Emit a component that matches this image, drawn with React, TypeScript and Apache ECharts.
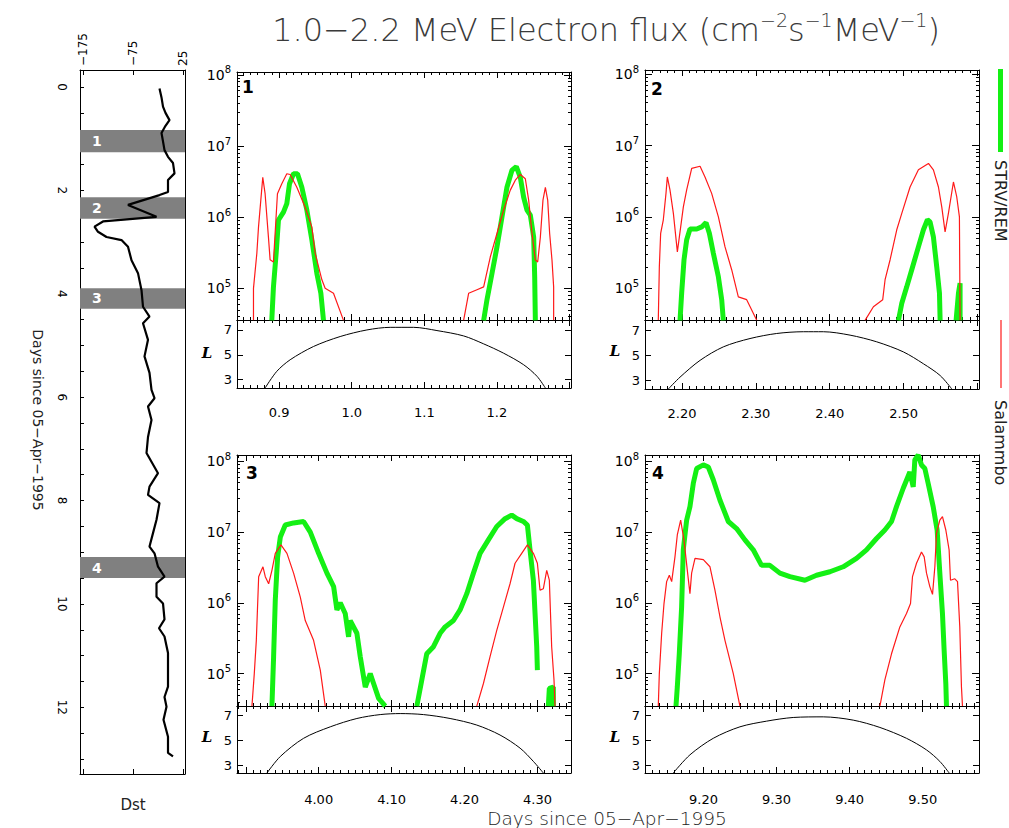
import React, { useEffect, useRef } from 'react';
import * as echarts from 'echarts';

const FONT = 'DejaVu Sans';

// ---- Dst panel (left): Dst index (nT) versus days since 05-Apr-1995 ----
const dstDays = [0.03, 0.2, 0.38, 0.5, 0.64, 0.75, 0.89, 1.05, 1.22, 1.35, 1.47, 1.67, 1.8, 2.03, 2.09, 2.28, 2.51, 2.6, 2.7, 2.8, 2.9, 2.96, 3.09, 3.35, 3.6, 3.93, 4.25, 4.44, 4.57, 4.89, 5.21, 5.53, 5.86, 6.02, 6.18, 6.44, 6.77, 7.08, 7.47, 7.73, 7.89, 8.05, 8.37, 8.63, 8.89, 9.02, 9.28, 9.47, 9.6, 9.86, 9.99, 10.3, 10.47, 10.63, 10.95, 11.6, 11.8, 11.99, 12.24, 12.57, 12.88, 12.95];
const dstValues = [-22, -18, -15, -10, -2, -10, -18, -15, -12, -5, 5, 8, -5, -5, -22, -85, -28, -135, -152, -145, -128, -98, -85, -78, -65, -58, -55, -42, -55, -45, -52, -42, -38, -32, -45, -38, -45, -48, -25, -42, -45, -22, -28, -35, -42, -32, -25, -12, -28, -28, -15, -12, -23, -12, -5, -5, -12, -8, -14, -5, -5, 5];
const dstTicks = [-175, -75, 25];
const dayLabels = [0, 2, 4, 6, 8, 10, 12];
const bandNames = ['1', '2', '3', '4'];
const bandStart = [0.83, 2.13, 3.89, 9.09];
const bandEnd = [1.26, 2.55, 4.29, 9.5];

// ---- Flux panels: [day, log10(flux)] ----
const p1Red1 = [[0.8647, 4.55], [0.8647, 5.0], [0.8693, 5.49], [0.8716, 5.86], [0.8748, 6.24], [0.8775, 6.56], [0.8807, 6.33], [0.8853, 5.72], [0.8876, 5.4], [0.8922, 5.37], [0.8945, 5.77], [0.8977, 6.33], [0.9037, 6.47], [0.9106, 6.61], [0.9152, 6.6], [0.9244, 6.42], [0.9359, 6.14], [0.9451, 5.86], [0.9497, 5.49], [0.9589, 5.12], [0.9634, 5.0], [0.9749, 4.93], [0.9887, 4.55]];
const p1Red2 = [[1.1541, 4.55], [1.161, 4.93], [1.1725, 4.98], [1.1817, 5.02], [1.1908, 5.44], [1.2, 5.77], [1.2092, 6.1], [1.2184, 6.38], [1.2253, 6.52], [1.2322, 6.6], [1.2391, 6.54], [1.2437, 6.24], [1.2483, 5.77], [1.2529, 5.4], [1.2561, 5.37], [1.2598, 5.72], [1.2634, 6.24], [1.2667, 6.42], [1.2699, 6.24], [1.2726, 5.77], [1.2758, 5.4], [1.2781, 5.02], [1.2781, 4.55]];
const p1Green1 = [[0.8899, 4.55], [0.8922, 5.02], [0.8959, 5.49], [0.8991, 5.96], [0.906, 6.07], [0.9106, 6.19], [0.9143, 6.47], [0.9198, 6.61], [0.9253, 6.61], [0.9313, 6.42], [0.9382, 6.1], [0.9451, 5.68], [0.952, 5.21], [0.9575, 4.93], [0.9611, 4.55]];
const p1Green2 = [[1.1817, 4.55], [1.1863, 4.84], [1.1932, 5.21], [1.2, 5.58], [1.2069, 6.0], [1.2138, 6.42], [1.2207, 6.66], [1.2267, 6.71], [1.2322, 6.56], [1.2368, 6.28], [1.2414, 6.1], [1.246, 6.03], [1.2506, 5.72], [1.252, 5.16], [1.2529, 4.55]];
const p1L = [[0.8807, 2.33], [0.8968, 3.67], [0.9152, 4.6], [0.9474, 5.67], [0.9841, 6.47], [1.0209, 7.0], [1.053, 7.21], [1.0852, 7.21], [1.1174, 6.95], [1.1541, 6.52], [1.1817, 5.88], [1.2092, 5.13], [1.2368, 4.2], [1.2552, 3.27], [1.2667, 2.33]];

const p2Red1 = [[2.168, 4.55], [2.1694, 5.3], [2.1712, 5.77], [2.1748, 5.96], [2.1784, 6.33], [2.1802, 6.56], [2.1838, 6.38], [2.1884, 6.05], [2.1938, 5.51], [2.1965, 5.72], [2.2019, 6.14], [2.2064, 6.38], [2.2132, 6.68], [2.2245, 6.71], [2.2312, 6.56], [2.2402, 6.33], [2.2493, 6.0], [2.2583, 5.58], [2.2673, 5.26], [2.2763, 4.88], [2.2876, 4.84], [2.3012, 4.55]];
const p2Red2 = [[2.4478, 4.55], [2.4591, 4.74], [2.4717, 4.84], [2.4749, 5.12], [2.4817, 5.4], [2.4907, 5.82], [2.4975, 6.05], [2.5087, 6.42], [2.52, 6.66], [2.5336, 6.75], [2.5403, 6.66], [2.5471, 6.42], [2.5516, 6.14], [2.5561, 5.79], [2.5606, 6.05], [2.5674, 6.49], [2.5719, 6.28], [2.5755, 6.0], [2.5764, 4.55]];
const p2Green1 = [[2.1974, 4.55], [2.1996, 4.93], [2.2028, 5.4], [2.2064, 5.68], [2.2109, 5.83], [2.22, 5.83], [2.2267, 5.86], [2.2326, 5.92], [2.2371, 5.77], [2.2425, 5.49], [2.2493, 5.16], [2.2538, 4.84], [2.256, 4.55]];
const p2Green2 = [[2.493, 4.55], [2.4975, 4.79], [2.5042, 5.02], [2.511, 5.26], [2.52, 5.58], [2.5268, 5.82], [2.5322, 5.96], [2.5358, 5.93], [2.5403, 5.72], [2.5448, 5.3], [2.5485, 4.93], [2.5494, 4.55]];
const p2Green3 = [[2.571, 4.55], [2.5742, 4.93], [2.5764, 5.07], [2.5764, 4.55]];
const p2L = [[2.1816, 2.33], [2.1974, 3.27], [2.2245, 4.6], [2.256, 5.67], [2.2921, 6.33], [2.3282, 6.73], [2.3643, 6.87], [2.3914, 6.87], [2.4275, 6.6], [2.4636, 6.07], [2.4997, 5.27], [2.5268, 4.33], [2.5494, 3.4], [2.5652, 2.33]];

const p3Red1 = [[3.9085, 4.54], [3.9117, 5.0], [3.9145, 5.47], [3.9177, 6.37], [3.9236, 6.51], [3.9268, 6.37], [3.9314, 6.27], [3.9359, 6.46], [3.9405, 6.7], [3.9483, 6.82], [3.9565, 6.7], [3.9656, 6.42], [3.9748, 6.08], [3.9816, 5.75], [3.993, 5.47], [4.0022, 5.05], [4.009, 4.54]];
const p3Red2 = [[4.2168, 4.54], [4.2259, 4.86], [4.235, 5.24], [4.2442, 5.61], [4.2533, 5.94], [4.2624, 6.27], [4.2693, 6.56], [4.2784, 6.7], [4.2862, 6.82], [4.2944, 6.7], [4.2999, 6.56], [4.3035, 6.18], [4.3081, 6.2], [4.3127, 6.46], [4.3163, 6.32], [4.3195, 5.38], [4.3227, 4.91], [4.3241, 4.54]];
const p3Green1 = [[3.9359, 4.54], [3.9382, 5.24], [3.9405, 6.04], [3.9437, 6.65], [3.9474, 6.93], [3.9542, 7.1], [3.9656, 7.13], [3.9793, 7.15], [3.9885, 7.0], [3.9999, 6.7], [4.0113, 6.42], [4.0205, 6.23], [4.025, 5.9], [4.0296, 6.0], [4.0364, 5.85], [4.041, 5.52], [4.0433, 5.75], [4.0524, 5.57], [4.057, 5.24], [4.0639, 4.81], [4.0707, 5.0], [4.0753, 4.86], [4.0822, 4.65], [4.0913, 4.54]];
const p3Green2 = [[4.1346, 4.54], [4.1414, 4.91], [4.1482, 5.28], [4.1574, 5.38], [4.1665, 5.57], [4.1734, 5.66], [4.1848, 5.75], [4.1939, 5.9], [4.2031, 6.13], [4.2122, 6.42], [4.2213, 6.7], [4.2327, 6.89], [4.2442, 7.08], [4.2556, 7.19], [4.2647, 7.24], [4.2716, 7.19], [4.2807, 7.15], [4.2862, 7.1], [4.2898, 6.75], [4.2944, 6.32], [4.2967, 5.85], [4.299, 5.38], [4.2999, 5.05]];
const p3Green3 = [[4.3149, 4.54], [4.3163, 4.79], [4.3218, 4.81], [4.3218, 4.54]];
const p3L = [[3.9291, 2.42], [3.9474, 3.73], [3.9793, 5.17], [4.0159, 6.08], [4.0524, 6.74], [4.0844, 7.05], [4.1118, 7.13], [4.1437, 7.05], [4.1802, 6.74], [4.2168, 6.22], [4.2487, 5.43], [4.2762, 4.39], [4.2944, 3.34], [4.3081, 2.42]];

const p4Red1 = [[9.1382, 4.54], [9.1396, 5.0], [9.1428, 5.57], [9.146, 5.99], [9.1496, 6.3], [9.1533, 6.39], [9.1565, 6.3], [9.161, 6.65], [9.1642, 6.96], [9.1688, 7.17], [9.1733, 6.89], [9.1779, 6.46], [9.1815, 6.13], [9.1838, 6.42], [9.1884, 6.63], [9.1998, 6.61], [9.2089, 6.51], [9.2157, 6.18], [9.2226, 5.8], [9.2294, 5.47], [9.2408, 5.0], [9.2499, 4.54]];
const p4Red2 = [[9.4414, 4.54], [9.4482, 4.91], [9.4573, 5.28], [9.4687, 5.66], [9.4778, 5.85], [9.4833, 5.99], [9.486, 6.37], [9.4915, 6.56], [9.4983, 6.72], [9.502, 6.65], [9.5052, 6.42], [9.5097, 6.23], [9.5134, 6.12], [9.5166, 6.51], [9.5188, 6.98], [9.5234, 7.17], [9.527, 7.22], [9.5316, 7.03], [9.5361, 6.75], [9.538, 6.32], [9.5439, 6.34], [9.5476, 6.3], [9.5507, 5.66], [9.553, 4.81], [9.5544, 4.54]];
const p4Green1 = [[9.1624, 4.54], [9.1642, 4.81], [9.1669, 5.28], [9.1701, 5.94], [9.1724, 6.75], [9.177, 7.17], [9.1815, 7.36], [9.1861, 7.69], [9.1907, 7.9], [9.1998, 7.95], [9.2066, 7.92], [9.2134, 7.74], [9.2226, 7.45], [9.234, 7.15], [9.2453, 7.05], [9.2567, 6.89], [9.2681, 6.75], [9.2795, 6.53], [9.2909, 6.53], [9.3046, 6.42], [9.3183, 6.37], [9.3388, 6.32], [9.3547, 6.39], [9.373, 6.44], [9.3912, 6.51], [9.4094, 6.63], [9.4231, 6.75], [9.4368, 6.91], [9.4482, 7.03], [9.4573, 7.15], [9.4641, 7.36], [9.4733, 7.62], [9.4824, 7.85], [9.487, 7.64], [9.4892, 8.02], [9.4938, 8.09], [9.4983, 7.95], [9.5029, 7.9], [9.5074, 7.69], [9.5143, 7.36], [9.5197, 7.03], [9.5234, 6.42], [9.527, 5.85], [9.5293, 5.33], [9.5316, 4.86], [9.5325, 4.54]];
const p4L = [[9.1587, 2.42], [9.1815, 3.86], [9.2134, 5.17], [9.2499, 6.08], [9.2864, 6.53], [9.3228, 6.82], [9.3639, 6.87], [9.4049, 6.61], [9.4414, 6.03], [9.4778, 5.17], [9.5052, 4.25], [9.5234, 3.34], [9.5362, 2.42]];

const panelNames = ['1', '2', '3', '4'];
const panelXMin = [0.842, 2.15, 3.888, 9.12];
const panelXMax = [1.302, 2.602, 4.346, 9.577];
const panelXLabels = [[0.9, 1.0, 1.1, 1.2], [2.2, 2.3, 2.4, 2.5], [4.0, 4.1, 4.2, 4.3], [9.2, 9.3, 9.4, 9.5]];
const panelXDecimals = [1, 2, 2, 2];
const fluxMin = [4.555, 4.555, 4.542, 4.542];
const fluxMax = [8.04, 8.06, 8.09, 8.09];
const lMin = [2.33, 2.33, 2.42, 2.42];
const lMax = [7.8, 7.8, 7.73, 7.73];
const fluxDecades = [5, 6, 7, 8];
const lTicks = [3, 5, 7];
const greenSegs = [[p1Green1, p1Green2], [p2Green1, p2Green2, p2Green3], [p3Green1, p3Green2, p3Green3], [p4Green1]];
const redSegs = [[p1Red1, p1Red2], [p2Red1, p2Red2], [p3Red1, p3Red2], [p4Red1, p4Red2]];
const lCurves = [p1L, p2L, p3L, p4L];

// layout (pixels)
const fluxRects = [[237, 72, 334, 248], [645, 70, 334, 250], [237, 455, 334, 251], [645, 455, 334, 251]];
const lRects = [[237, 320, 334, 68], [645, 320, 334, 69], [237, 706, 334, 67], [645, 706, 334, 67]];
const GREEN = '#14f014';
const RED = '#ff1a1a';

function buildOption() {
  const grid: any[] = [];
  const xAxis: any[] = [];
  const yAxis: any[] = [];
  const series: any[] = [];
  const addGrid = (r: number[]) => { grid.push({ left: r[0], top: r[1], width: r[2], height: r[3], show: false }); return grid.length - 1; };
  const axis = (o: any) => ({
    type: 'value', gridIndex: o.g, min: o.min, max: o.max, position: o.pos, inverse: !!o.inverse,
    axisLine: { show: o.line !== false, onZero: false, lineStyle: { color: '#000', width: 1 } },
    axisTick: o.ticks ? { show: true, inside: true, length: o.len, customValues: o.ticks, lineStyle: { color: '#000', width: 1 } } : { show: false },
    axisLabel: o.labels ? { show: true, customValues: o.labels, formatter: o.fmt, margin: o.margin, rotate: o.rotate || 0, color: '#000', fontFamily: FONT, fontSize: o.fs || 13, rich: o.rich } : { show: false },
    splitLine: { show: false },
  });
  const addX = (o: any) => { xAxis.push(axis(o)); return xAxis.length - 1; };
  const addY = (o: any) => { yAxis.push(axis(o)); return yAxis.length - 1; };
  const rangeStep = (min: number, max: number, f: number) => { const r: number[] = []; for (let i = Math.ceil(min * f - 1e-9); i <= Math.floor(max * f + 1e-9); i++) r.push(i / f); return r; };

  // Dst panel
  const dg = addGrid([80, 70, 105, 704]);
  const dx = addX({ g: dg, min: -181, max: 29, pos: 'top', ticks: dstTicks, len: 5, labels: dstTicks, rotate: -90, margin: 4, fs: 12, fmt: (v: number) => (v < 0 ? '−' + (-v) : String(v)) });
  addX({ g: dg, min: -181, max: 29, pos: 'bottom', ticks: dstTicks, len: 5 });
  const dy = addY({ g: dg, min: -0.33, max: 13.29, pos: 'left', inverse: true, ticks: rangeStep(0, 13, 2), len: 4, labels: dayLabels, rotate: -90, margin: 12, fs: 12, fmt: (v: number) => String(v) });
  addY({ g: dg, min: -0.33, max: 13.29, pos: 'right', inverse: true });
  series.push({
    type: 'line', xAxisIndex: dx, yAxisIndex: dy, z: 1, silent: true, showSymbol: false,
    data: dstDays.map((d, i) => [dstValues[i], d]), lineStyle: { opacity: 0 },
    markArea: {
      silent: true, itemStyle: { color: '#808080', opacity: 1 },
      label: { show: true, position: 'insideLeft', distance: 12, color: '#fff', fontWeight: 'bold', fontSize: 14, fontFamily: FONT },
      data: bandNames.map((n, i) => [{ name: n, yAxis: bandStart[i] }, { yAxis: bandEnd[i] }]),
    },
  });
  series.push({ type: 'line', xAxisIndex: dx, yAxisIndex: dy, z: 5, showSymbol: false, data: dstDays.map((d, i) => [dstValues[i], d]), lineStyle: { color: '#000', width: 2.2 } });

  for (let p = 0; p < 4; p++) {
    const xmin = panelXMin[p], xmax = panelXMax[p];
    const xMajor = rangeStep(xmin, xmax, 10);
    const xMinor = rangeStep(xmin, xmax, 100);
    const fMinor: number[] = [];
    for (let n = 4; n <= 8; n++) for (let k = 2; k <= 9; k++) { const v = n + Math.log10(k); if (v > fluxMin[p] && v < fluxMax[p]) fMinor.push(v); }
    const dec = panelXDecimals[p];
    const fg = addGrid(fluxRects[p]);
    const fx = addX({ g: fg, min: xmin, max: xmax, pos: 'bottom', ticks: xMajor, len: 6 });
    addX({ g: fg, min: xmin, max: xmax, pos: 'top', ticks: xMajor, len: 6 });
    const fy = addY({
      g: fg, min: fluxMin[p], max: fluxMax[p], pos: 'left', ticks: fluxDecades, len: 7, labels: fluxDecades, margin: 6,
      fmt: (v: number) => `{b|10}{e|${Math.round(v)}}`,
      rich: { b: { fontSize: 14, fontFamily: FONT, color: '#000', lineHeight: 20 }, e: { fontSize: 10, fontFamily: FONT, color: '#000', verticalAlign: 'top', lineHeight: 10 } },
    });
    addY({ g: fg, min: fluxMin[p], max: fluxMax[p], pos: 'right', ticks: fluxDecades, len: 7 });
    const fgm = addGrid(fluxRects[p]);
    addX({ g: fgm, min: xmin, max: xmax, pos: 'bottom', ticks: xMinor, len: 3, line: false });
    addX({ g: fgm, min: xmin, max: xmax, pos: 'top', ticks: xMinor, len: 3, line: false });
    addY({ g: fgm, min: fluxMin[p], max: fluxMax[p], pos: 'left', ticks: fMinor, len: 3, line: false });
    addY({ g: fgm, min: fluxMin[p], max: fluxMax[p], pos: 'right', ticks: fMinor, len: 3, line: false });
    const lg = addGrid(lRects[p]);
    const lx = addX({ g: lg, min: xmin, max: xmax, pos: 'bottom', ticks: xMajor, len: 6, labels: panelXLabels[p], margin: p < 2 ? 18 : 20, fmt: (v: number) => v.toFixed(dec) });
    addX({ g: lg, min: xmin, max: xmax, pos: 'top', ticks: xMajor, len: 6 });
    const ly = addY({ g: lg, min: lMin[p], max: lMax[p], pos: 'left', ticks: lTicks, len: 6, labels: lTicks, margin: 5, fs: 13, fmt: (v: number) => String(v) });
    addY({ g: lg, min: lMin[p], max: lMax[p], pos: 'right', ticks: lTicks, len: 6 });
    const lgm = addGrid(lRects[p]);
    addX({ g: lgm, min: xmin, max: xmax, pos: 'bottom', ticks: xMinor, len: 3, line: false });
    addX({ g: lgm, min: xmin, max: xmax, pos: 'top', ticks: xMinor, len: 3, line: false });
    addY({ g: lgm, min: lMin[p], max: lMax[p], pos: 'left', line: false });

    greenSegs[p].forEach((seg) => series.push({ type: 'line', xAxisIndex: fx, yAxisIndex: fy, z: 3, showSymbol: false, clip: true, data: seg, lineStyle: { color: GREEN, width: 5, join: 'bevel' } }));
    redSegs[p].forEach((seg) => series.push({ type: 'line', xAxisIndex: fx, yAxisIndex: fy, z: 4, showSymbol: false, clip: true, data: seg, lineStyle: { color: RED, width: 1.2 } }));
    series.push({ type: 'line', xAxisIndex: lx, yAxisIndex: ly, z: 3, showSymbol: false, clip: true, smooth: 0.3, data: lCurves[p], lineStyle: { color: '#000', width: 1 } });
  }

  const numPos = [[248, 87], [657, 89], [252, 473], [658, 473]];
  const lPos = [[207, 353], [615, 351], [207, 737], [615, 737]];
  const graphic: any[] = [
    {
      type: 'text', x: 606, y: 30,
      style: {
        text: '{n|1.0−2.2 MeV Electron flux (cm}{s|−2}{n|s}{s|−1}{n|MeV}{s|−1}{n|)}', align: 'center', verticalAlign: 'middle',
        rich: { n: { fontSize: 32, fontFamily: FONT, fontWeight: 200, fill: '#3a3a3a', lineHeight: 40 }, s: { fontSize: 19, fontFamily: FONT, fontWeight: 200, fill: '#3a3a3a', verticalAlign: 'top', lineHeight: 19 } },
      },
    },
    { type: 'text', x: 607, y: 818, style: { text: 'Days since 05−Apr−1995', align: 'center', verticalAlign: 'middle', fontSize: 18.5, fontFamily: FONT, fontWeight: 200, fill: '#222' } },
    { type: 'text', x: 38, y: 420, rotation: -Math.PI / 2, style: { text: 'Days since 05−Apr−1995', align: 'center', verticalAlign: 'middle', fontSize: 14, fontFamily: FONT, fill: '#222' } },
    { type: 'text', x: 133, y: 805, style: { text: 'Dst', align: 'center', verticalAlign: 'middle', fontSize: 15, fontFamily: FONT, fill: '#222' } },
    { type: 'rect', shape: { x: 998, y: 69, width: 5, height: 83 }, style: { fill: GREEN } },
    { type: 'text', x: 1000, y: 160, rotation: -Math.PI / 2, style: { text: 'STRV/REM', align: 'left', verticalAlign: 'middle', fontSize: 16, fontFamily: FONT, fill: '#222' } },
    { type: 'line', shape: { x1: 1001, y1: 320, x2: 1001, y2: 388 }, style: { stroke: RED, lineWidth: 1.2 } },
    { type: 'text', x: 1000, y: 400, rotation: -Math.PI / 2, style: { text: 'Salammbo', align: 'left', verticalAlign: 'middle', fontSize: 16, fontFamily: FONT, fill: '#222' } },
  ];
  panelNames.forEach((n, i) => graphic.push({ type: 'text', x: numPos[i][0], y: numPos[i][1], style: { text: n, align: 'center', verticalAlign: 'middle', fontSize: 17, fontWeight: 'bold', fontFamily: FONT, fill: '#000' } }));
  lPos.forEach((pp) => graphic.push({ type: 'text', x: pp[0], y: pp[1], style: { text: 'L', align: 'center', verticalAlign: 'middle', fontSize: 15, fontStyle: 'italic', fontWeight: 'bold', fontFamily: 'DejaVu Serif', fill: '#000' } }));

  return { animation: false, backgroundColor: '#fff', grid, xAxis, yAxis, series, graphic };
}

export default function App() {
  const ref = useRef<HTMLDivElement>(null);
  useEffect(() => {
    const chart = echarts.init(ref.current!, null, { renderer: 'svg' });
    chart.setOption(buildOption() as any);
    return () => chart.dispose();
  }, []);
  return <div ref={ref} style={{ position: 'fixed', left: 0, top: 0, width: 1009, height: 828, background: '#fff' }} />;
}
